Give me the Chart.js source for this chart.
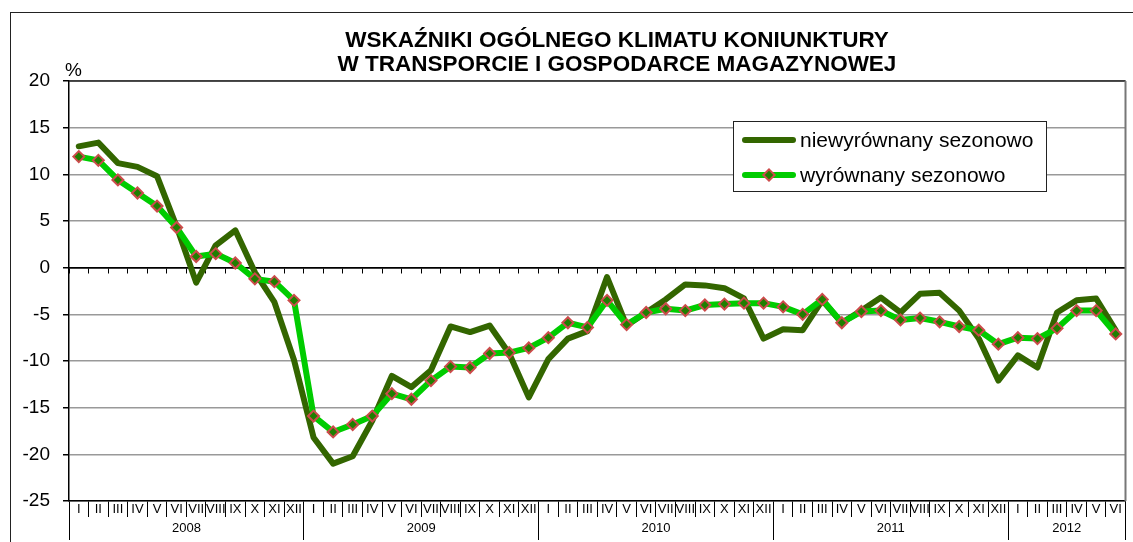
<!DOCTYPE html>
<html>
<head>
<meta charset="utf-8">
<script src="https://cdn.jsdelivr.net/npm/chart.js@4/dist/chart.umd.min.js"></script>
<style>
  html, body { margin: 0; padding: 0; background: #fff; }
  body { width: 1133px; height: 542px; position: relative; overflow: hidden; font-family: "Liberation Sans", Arial, sans-serif; color: #000; }
  #chart { position: absolute; left: 0; top: 0; }
  #frame { position: absolute; left: 10px; top: 12px; width: 1200px; height: 600px; border-left: 1px solid #222; border-top: 1px solid #222; pointer-events: none; }
  #title { position: absolute; left: 117px; top: 28px; width: 1000px; text-align: center; font-weight: bold; font-size: 22.5px; line-height: 24px; }
  #unit { position: absolute; left: 65px; top: 59px; font-size: 19px; }
  #legend { position: absolute; left: 733px; top: 121px; width: 312px; height: 69px; border: 1px solid #222; background: #fff; }
  .row { position: absolute; left: 7px; height: 24px; font-size: 21px; line-height: 24px; white-space: nowrap; }
  .row svg { position: absolute; left: 0; top: 0; }
  .row span { position: absolute; left: 59px; top: 0; }
</style>
</head>
<body>
<canvas id="chart" width="1133" height="542"></canvas>
<div id="frame"></div>
<div id="title">WSKAŹNIKI OGÓLNEGO KLIMATU KONIUNKTURY<br>W TRANSPORCIE I GOSPODARCE MAGAZYNOWEJ</div>
<div id="unit">%</div>
<div id="legend">
  <div class="row" style="top:6px">
    <svg width="60" height="24"><line x1="4" y1="12" x2="52" y2="12" stroke="#336600" stroke-width="6" stroke-linecap="round"/></svg>
    <span>niewyrównany sezonowo</span>
  </div>
  <div class="row" style="top:41px">
    <svg width="60" height="24"><line x1="4" y1="12" x2="52" y2="12" stroke="#00cc00" stroke-width="6" stroke-linecap="round"/><rect x="24" y="8" width="8" height="8" transform="rotate(45 28 12)" fill="#1f7f00" stroke="#cc4b4b" stroke-width="2"/></svg>
    <span>wyrównany sezonowo</span>
  </div>
</div>
<script>
const months = ['I', 'II', 'III', 'IV', 'V', 'VI', 'VII', 'VIII', 'IX', 'X', 'XI', 'XII'];
const years = ['2008', '2009', '2010', '2011', '2012'];
const monthsInYear = [12, 12, 12, 12, 6];

// niewyrównany sezonowo
const niewyrownany = [
  13.0, 13.4, 11.2, 10.8, 9.8, 4.4, -1.6, 2.4, 4.0, -0.5, -3.7, -9.9,
  -18.2, -21.0, -20.2, -16.4, -11.6, -12.8, -11.0, -6.3, -6.9, -6.2, -9.2, -13.9,
  -9.8, -7.6, -6.8, -1.0, -6.2, -4.8, -3.4, -1.8, -1.9, -2.2, -3.3, -7.6,
  -6.6, -6.7, -3.5, -5.9, -4.6, -3.2, -4.8, -2.8, -2.7, -4.6, -7.6, -12.1,
  -9.4, -10.7, -4.8, -3.5, -3.3, -6.7
];
// wyrównany sezonowo
const wyrownany = [
  11.9, 11.5, 9.4, 8.0, 6.6, 4.3, 1.2, 1.5, 0.5, -1.2, -1.5, -3.5,
  -15.9, -17.6, -16.8, -15.9, -13.5, -14.1, -12.1, -10.6, -10.7, -9.2, -9.1, -8.6,
  -7.5, -5.9, -6.4, -3.5, -6.1, -4.8, -4.4, -4.6, -4.0, -3.9, -3.8, -3.8,
  -4.2, -5.0, -3.4, -5.9, -4.7, -4.6, -5.6, -5.4, -5.8, -6.3, -6.7, -8.2,
  -7.5, -7.6, -6.5, -4.6, -4.6, -7.1
];

const yMin = -25, yMax = 20, yStep = 5;

const monthLabels = [];
const yearLabels = [];
const yearStart = new Set();
const yearMid = new Set();
years.forEach((yr, i) => {
  yearStart.add(monthLabels.length);
  yearMid.add(monthLabels.length + monthsInYear[i] / 2 - 1);
  for (let m = 0; m < monthsInYear[i]; m++) {
    monthLabels.push(months[m]);
    yearLabels.push(yr);
  }
});

Chart.defaults.font.family = '"Liberation Sans", Arial, sans-serif';
Chart.defaults.color = '#000';

const plotBorder = {
  id: 'plotBorder',
  beforeDatasetsDraw(chart) {
    const a = chart.chartArea, ctx = chart.ctx;
    ctx.save();
    ctx.lineWidth = 1.5;
    ctx.strokeStyle = '#222';
    ctx.beginPath();
    ctx.moveTo(a.left, a.top);
    ctx.lineTo(a.right, a.top);
    ctx.stroke();
    ctx.strokeStyle = '#777';
    ctx.lineWidth = 2;
    ctx.beginPath();
    ctx.moveTo(a.right, a.top);
    ctx.lineTo(a.right, a.bottom);
    ctx.stroke();
    ctx.restore();
  }
};

new Chart(document.getElementById('chart').getContext('2d'), {
  type: 'line',
  data: {
    labels: monthLabels,
    datasets: [
      {
        label: 'niewyrównany sezonowo',
        data: niewyrownany,
        borderColor: '#336600',
        borderWidth: 6,
        borderJoinStyle: 'round',
        borderCapStyle: 'round',
        pointRadius: 0,
        tension: 0,
        order: 2
      },
      {
        label: 'wyrównany sezonowo',
        data: wyrownany,
        borderColor: '#00cc00',
        borderWidth: 6,
        borderJoinStyle: 'round',
        borderCapStyle: 'round',
        pointStyle: 'rectRot',
        pointRadius: 5.5,
        pointBackgroundColor: '#1f7f00',
        pointBorderColor: '#cc4b4b',
        pointBorderWidth: 2,
        tension: 0,
        order: 1
      }
    ]
  },
  options: {
    responsive: false,
    devicePixelRatio: 1,
    animation: false,
    events: [],
    layout: { padding: { top: 81, right: 6, bottom: 0, left: 0 } },
    plugins: { legend: { display: false }, tooltip: { enabled: false }, title: { display: false } },
    scales: {
      y: {
        min: yMin,
        max: yMax,
        ticks: { stepSize: yStep, padding: 13, font: { size: 19 } },
        grid: {
          color: c => (c.tick && c.tick.value === 0) ? '#000' : '#999',
          lineWidth: 1.5,
          tickColor: '#000',
          tickLength: 6
        },
        border: { color: '#000', width: 1.5 },
        afterFit: s => { s.width = 69; }
      },
      x: {
        position: 'bottom',
        weight: 0,
        offset: true,
        grid: { offset: true, drawOnChartArea: false, color: '#000', lineWidth: 1, tickLength: 16 },
        border: { color: '#000', width: 1.5 },
        ticks: { autoSkip: false, maxRotation: 0, minRotation: 0, padding: -15, font: { size: 13 } },
        afterFit: s => { s.height = 16; }
      },
      x2: {
        axis: 'x',
        position: 'bottom',
        weight: 1,
        labels: yearLabels,
        offset: true,
        grid: {
          offset: true,
          drawOnChartArea: false,
          lineWidth: 1,
          tickLength: 23,
          color: c => (c.index === undefined || yearStart.has(c.index)) ? '#000' : 'rgba(0,0,0,0)'
        },
        border: { display: false },
        ticks: {
          autoSkip: false, maxRotation: 0, minRotation: 0, padding: -19, labelOffset: 9.8,
          font: { size: 13 },
          callback: (v, i) => yearMid.has(i) ? yearLabels[i] : ''
        },
        afterFit: s => { s.height = 25; }
      },
      x3: {
        axis: 'x',
        position: { y: 0 },
        offset: true,
        grid: { offset: true, drawOnChartArea: false, color: '#000', lineWidth: 1, tickLength: 5 },
        border: { color: '#000', width: 1.5 },
        ticks: { display: false }
      }
    }
  },
  plugins: [plotBorder]
});
</script>
</body>
</html>
